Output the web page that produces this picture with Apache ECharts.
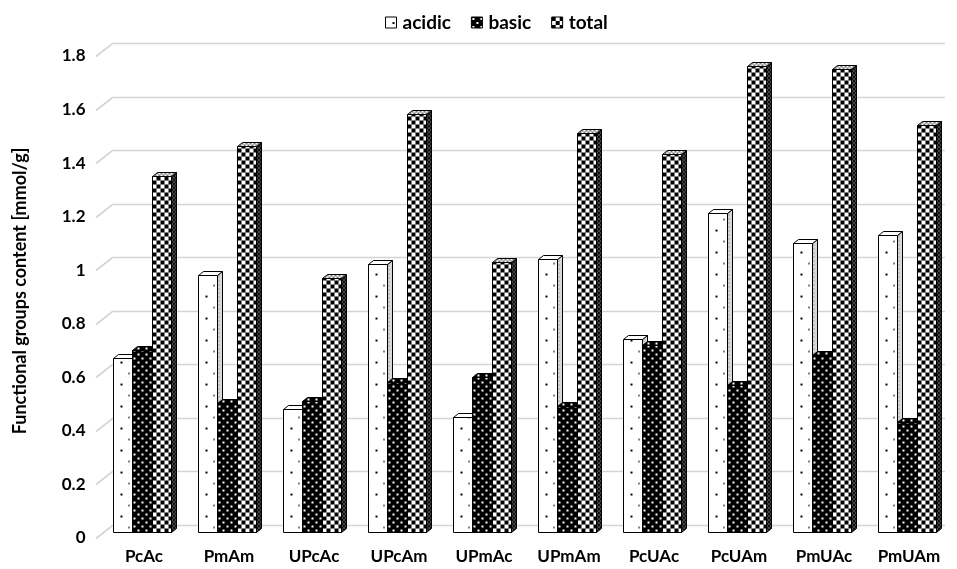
<!DOCTYPE html>
<html>
<head>
<meta charset="utf-8">
<script src="https://cdn.jsdelivr.net/npm/echarts@6/dist/echarts.min.js"></script>
<style>
  html, body { margin: 0; padding: 0; background: #fff; }
  #chart { width: 957px; height: 569px; }
</style>
</head>
<body>
<div id="chart"></div>
<script>
// Functional groups content per sample
const categories = ['PcAc', 'PmAm', 'UPcAc', 'UPcAm', 'UPmAc', 'UPmAm', 'PcUAc', 'PcUAm', 'PmUAc', 'PmUAm'];
const acidic = [0.65, 0.96, 0.46, 1.00, 0.43, 1.02, 0.72, 1.19, 1.08, 1.11];
const basic  = [0.68, 0.48, 0.49, 0.56, 0.58, 0.47, 0.70, 0.55, 0.66, 0.41];
const total  = [1.33, 1.44, 0.95, 1.56, 1.01, 1.49, 1.41, 1.74, 1.73, 1.52];
const gridValues = [0, 0.2, 0.4, 0.6, 0.8, 1, 1.2, 1.4, 1.6, 1.8];

const FONT = 'Lato';

// --- fill tiles -----------------------------------------------------------
function tile(w, h, draw) {
  const c = document.createElement('canvas');
  c.width = w; c.height = h;
  const ctx = c.getContext('2d');
  draw(ctx, w, h);
  return c;
}
const tiles = {
  acidicFront: tile(16, 22, (g, w, h) => {
    g.fillStyle = '#fff'; g.fillRect(0, 0, w, h);
    g.fillStyle = '#000';
    g.fillRect(7, 5, 2, 2); g.fillRect(15, 16, 2, 2);
  }),
  acidicSide: tile(4, 4, (g, w, h) => {
    g.fillStyle = '#d8d8d8'; g.fillRect(0, 0, w, h);
    g.fillStyle = '#777'; g.fillRect(1, 1, 1, 1);
  }),
  basicFront: tile(8, 8, (g, w, h) => {
    g.fillStyle = '#000'; g.fillRect(0, 0, w, h);
    g.fillStyle = '#fff';
    g.fillRect(1, 1, 2, 2); g.fillRect(5, 5, 2, 2);
  }),
  basicSide: tile(4, 4, (g, w, h) => {
    g.fillStyle = '#000'; g.fillRect(0, 0, w, h);
    g.fillStyle = '#bbb'; g.fillRect(1, 1, 1, 1);
  }),
  totalFront: tile(8, 8, (g, w, h) => {
    g.fillStyle = '#fff'; g.fillRect(0, 0, w, h);
    g.fillStyle = '#000';
    g.fillRect(0, 0, 4, 4); g.fillRect(4, 4, 4, 4);
  }),
  totalSide: tile(4, 4, (g, w, h) => {
    g.fillStyle = '#111'; g.fillRect(0, 0, w, h);
    g.fillStyle = '#ddd'; g.fillRect(0, 3, 1, 1); g.fillRect(2, 1, 1, 1);
  }),
  totalTop: tile(4, 4, (g, w, h) => {
    g.fillStyle = '#fff'; g.fillRect(0, 0, w, h);
    g.fillStyle = '#777'; g.fillRect(0, 0, 2, 2); g.fillRect(2, 2, 2, 2);
  })
};
function pattern(img, x, y) {
  return { image: img, repeat: 'repeat', x: x || 0, y: y || 0 };
}

const looks = [
  { front: tiles.acidicFront, top: tiles.acidicFront, side: tiles.acidicSide },
  { front: tiles.basicFront, top: tiles.basicFront, side: tiles.basicSide },
  { front: tiles.totalFront, top: tiles.totalTop, side: tiles.totalSide }
];

// 3D column geometry (pixels)
const DEPTH_X = 5, DEPTH_Y = 4, FRONT_DROP = 7;
const BAR_FRACTION = 0.229;

function barRenderer(k) {
  return function (params, api) {
    const idx = api.value(0);
    const base = api.coord([idx, 0]);
    const topPt = api.coord([idx, api.value(1)]);
    const band = api.size([1, 0])[0];
    const w = band * BAR_FRACTION;
    const xL = Math.round(base[0] + (k - 1.5) * w) - 1.5;
    const xR = Math.round(base[0] + (k - 0.5) * w) - 1.5;
    const yT = Math.round(topPt[1] + FRONT_DROP) + 0.5;
    const yB = Math.round(base[1] + FRONT_DROP) + 0.5;
    const look = looks[k];
    const edge = { stroke: '#000', lineWidth: 1 };
    return {
      type: 'group',
      children: [
        {
          type: 'polygon',
          shape: { points: [[xR, yT], [xR + DEPTH_X, yT - DEPTH_Y], [xR + DEPTH_X, yB - DEPTH_Y], [xR, yB]] },
          style: Object.assign({ fill: pattern(look.side, xR, yT) }, edge)
        },
        {
          type: 'polygon',
          shape: { points: [[xL, yT], [xL + DEPTH_X, yT - DEPTH_Y], [xR + DEPTH_X, yT - DEPTH_Y], [xR, yT]] },
          style: Object.assign({ fill: pattern(look.top, xL, yT) }, edge)
        },
        {
          type: 'rect',
          shape: { x: xL, y: yT, width: xR - xL, height: yB - yT },
          style: Object.assign({ fill: pattern(look.front, xL, yB) }, edge)
        }
      ]
    };
  };
}

// back wall gridlines with their slanted run along the side wall
function gridRenderer(params, api) {
  const cs = params.coordSys;
  const y = Math.round(api.coord([0, api.value(1)])[1]) + 0.5;
  return {
    type: 'polyline',
    shape: { points: [[cs.x - 5.5, y + 13], [cs.x + 11, y], [cs.x + cs.width - 6.5, y]] },
    style: { stroke: '#d4d4d4', lineWidth: 1.6, fill: null }
  };
}

const chart = echarts.init(document.getElementById('chart'), null, { renderer: 'canvas' });

const seriesNames = ['acidic', 'basic', 'total'];
const seriesData = [acidic, basic, total];

chart.setOption({
  animation: false,
  backgroundColor: '#fff',
  textStyle: { fontFamily: FONT },
  legend: {
    top: 8,
    left: 380,
    icon: 'rect',
    itemWidth: 11,
    itemHeight: 11,
    itemGap: 20,
    itemStyle: { borderColor: '#000', borderWidth: 1 },
    textStyle: { fontFamily: FONT, fontWeight: 'bold', fontSize: 19, color: '#000', padding: [0, 0, 0, 1] },
    data: seriesNames
  },
  grid: { left: 101.5, right: 5.5, top: 43, bottom: 44, containLabel: false },
  xAxis: {
    type: 'category',
    data: categories,
    axisLine: { show: false },
    axisTick: { show: false },
    splitLine: { show: false },
    axisLabel: { interval: 0, fontFamily: FONT, fontWeight: 'bold', fontSize: 17, color: '#000', margin: 23 }
  },
  yAxis: {
    type: 'value',
    min: 0,
    max: 1.8,
    interval: 0.2,
    name: 'Functional groups content [mmol/g]',
    nameLocation: 'middle',
    nameGap: 72,
    nameTextStyle: { fontFamily: FONT, fontWeight: 'bold', fontSize: 18, color: '#000', padding: [0, 14, 0, 0] },
    axisLine: { show: false },
    axisTick: { show: false },
    splitLine: { show: false },
    axisLabel: {
      fontFamily: FONT, fontWeight: 'bold', fontSize: 17, color: '#000',
      margin: 16, verticalAlign: 'top', lineHeight: 26
    }
  },
  series: [
    {
      type: 'custom',
      name: 'grid',
      silent: true,
      renderItem: gridRenderer,
      data: gridValues.map(v => [0, v]),
      z: 1
    }
  ].concat(seriesNames.map((name, k) => ({
    type: 'custom',
    name: name,
    renderItem: barRenderer(k),
    itemStyle: { color: pattern(looks[k].front) },
    data: seriesData[k].map((v, i) => [i, v]),
    z: 2 + k
  })))
});
</script>
</body>
</html>
